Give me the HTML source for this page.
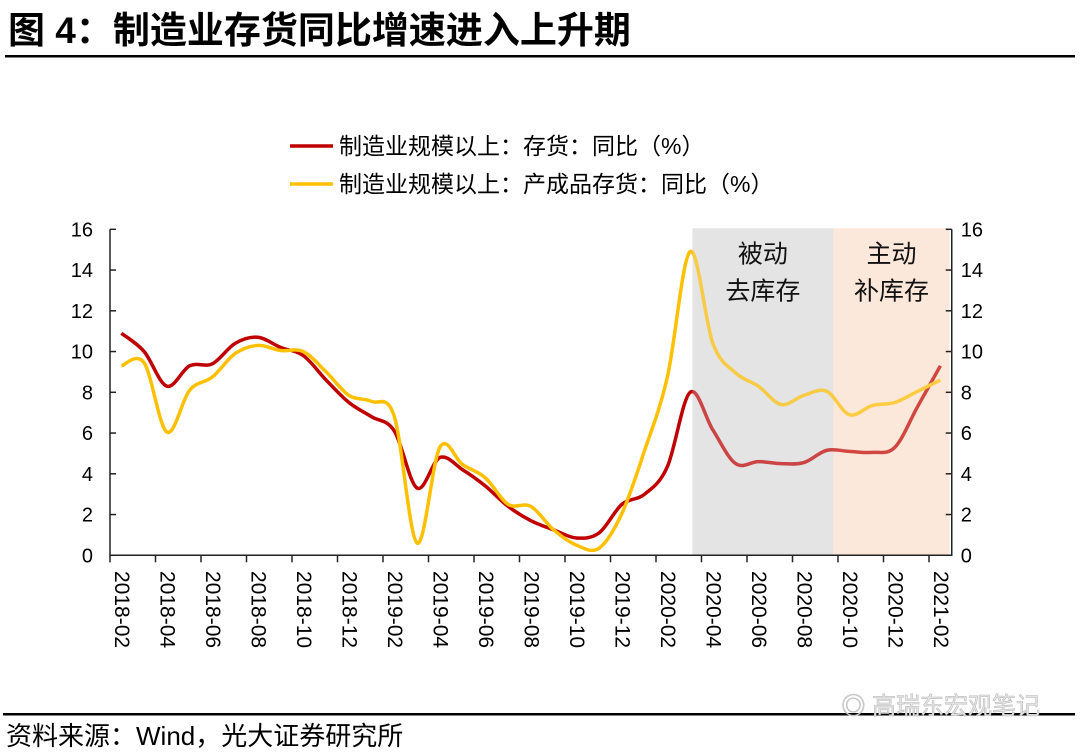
<!DOCTYPE html>
<html><head><meta charset="utf-8"><style>
html,body{margin:0;padding:0;background:#fff;width:1080px;height:752px;overflow:hidden}
svg{display:block}
text{font-family:"Liberation Sans","Noto Sans CJK SC",sans-serif}
</style></head><body>
<svg id="chart" width="1080" height="752">
<text x="8" y="43" font-size="37" font-weight="bold" fill="#000">图 4：制造业存货同比增速进入上升期</text>
<rect x="5" y="55" width="1070" height="2.5" fill="#000"/>
<g>
<g><line x1="290" y1="146" x2="333" y2="146" stroke="#c00000" stroke-width="3.5"/><text x="339" y="154" font-size="23">制造业规模以上：存货：同比（%）</text></g>
<g><line x1="290" y1="184" x2="333" y2="184" stroke="#ffc000" stroke-width="3.5"/><text x="339" y="192" font-size="23">制造业规模以上：产成品存货：同比（%）</text></g>
</g>
<g id="bands"></g>
<g id="plot"></g>
<rect x="3" y="713" width="1072" height="2.5" fill="#000"/>
<text x="1040" y="714" font-size="24" text-anchor="end" fill="#e6e6e6" stroke="#bbb" stroke-width="0.6">◎ 高瑞东宏观笔记</text>
<text x="6" y="745" font-size="26" fill="#000">资料来源：Wind，光大证券研究所</text>
</svg>
<script>
const categories = ["2018-02","2018-03","2018-04","2018-05","2018-06","2018-07","2018-08","2018-09","2018-10","2018-11","2018-12","2019-01","2019-02","2019-03","2019-04","2019-05","2019-06","2019-07","2019-08","2019-09","2019-10","2019-11","2019-12","2020-01","2020-02","2020-03","2020-04","2020-05","2020-06","2020-07","2020-08","2020-09","2020-10","2020-11","2020-12","2021-01","2021-02"];
const inventoryYoY = [10.9,10.0,8.3,9.3,9.4,10.4,10.7,10.2,9.8,8.6,7.5,6.8,6.1,3.3,4.8,4.2,3.4,2.4,1.7,1.25,0.85,1.1,2.5,3.0,4.35,8.0,6.15,4.5,4.6,4.5,4.55,5.15,5.1,5.05,5.3,7.3,9.3];
const finishedYoY = [9.3,9.45,6.05,8.1,8.75,9.9,10.3,10.05,10.0,9.0,7.85,7.55,6.8,0.6,5.3,4.45,3.8,2.5,2.4,1.25,0.5,0.35,2.05,5.15,8.75,14.9,10.4,8.95,8.3,7.4,7.85,8.05,6.9,7.35,7.5,8.05,8.6];
const yTicks = [0,2,4,6,8,10,12,14,16];
const phases = [{label:["被动","去库存"],start:25.1,end:31.3,fill:"#e4e4e4"},{label:["主动","补库存"],start:31.3,end:36.4,fill:"#fbe8dc"}];

const NS="http://www.w3.org/2000/svg";
const L=110,R=951.75,T=229.3,B=555.3,ymax=16;
const bw=(R-L)/categories.length;
function xs(i){return L+bw*(i+0.5);}
function ys(v){return B-(v/ymax)*(B-T);}
const g=document.getElementById('plot');
const gb=document.getElementById('bands');
function mk(tag,attrs,parent){const e=document.createElementNS(NS,tag);for(const k in attrs)e.setAttribute(k,attrs[k]);(parent||g).appendChild(e);return e;}
function path(vals){const p=vals.map((v,i)=>[xs(i),ys(v)]);let d=`M${p[0][0]},${p[0][1]}`;
for(let i=0;i<p.length-1;i++){const p0=p[i-1]||p[i],p1=p[i],p2=p[i+1],p3=p[i+2]||p2;const t=6;
d+=` C${p1[0]+(p2[0]-p0[0])/t},${p1[1]+(p2[1]-p0[1])/t} ${p2[0]-(p3[0]-p1[0])/t},${p2[1]-(p3[1]-p1[1])/t} ${p2[0]},${p2[1]}`;}return d;}

phases.forEach((ph,k)=>{
  const x0=xs(ph.start),x1=Math.min(xs(ph.end),R-2);
  const r=mk('rect',{x:x0,y:T-1,width:x1-x0,height:B-T+1,fill:ph.fill},gb);
  
  
});

const l1=mk('path',{d:path(inventoryYoY),fill:'none',stroke:'#c00000','stroke-width':3.5,'stroke-linejoin':'round'});


const l2=mk('path',{d:path(finishedYoY),fill:'none',stroke:'#ffc000','stroke-width':3.5,'stroke-linejoin':'round'});



phases.forEach((ph,k)=>{
  const x0=xs(ph.start),x1=Math.min(xs(ph.end),R-2);
  const r=mk('rect',{x:x0,y:T-1,width:x1-x0,height:B-T+1,fill:ph.fill,opacity:0.3});
  
  
  const cx=(x0+x1)/2;
  ph.label.forEach((s,j)=>{const t=mk('text',{x:cx,y:T+33+j*37,'font-size':25,'text-anchor':'middle',fill:'#111'});t.textContent=s;
    
    });
});

const ax=mk('path',{d:`M${L},${T} V${B} H${R} V${T}`,fill:'none',stroke:'#222','stroke-width':1.5});


yTicks.forEach(v=>{
  const y=ys(v);
  mk('line',{x1:L,y1:y,x2:L+6,y2:y,stroke:'#222','stroke-width':1.5});
  mk('line',{x1:R,y1:y,x2:R-6,y2:y,stroke:'#222','stroke-width':1.5});
  const a=mk('text',{x:L-17,y:y+7,'font-size':20,'text-anchor':'end'});a.textContent=v;
  
  
  const b=mk('text',{x:R+9,y:y+7,'font-size':20});b.textContent=v;
  
  
});
for(let i=0;i<=categories.length;i+=2){
  mk('line',{x1:L+bw*i,y1:B,x2:L+bw*i,y2:B+7,stroke:'#222','stroke-width':1.5});
}
categories.forEach((c,i)=>{if(i%2)return;
  const x=xs(i),y=571;
  const t=mk('text',{x:x,y:y,'font-size':21,transform:`rotate(90 ${x} ${y})`,'dominant-baseline':'central'});t.textContent=c;
  
  
});
</script>
</body></html>
